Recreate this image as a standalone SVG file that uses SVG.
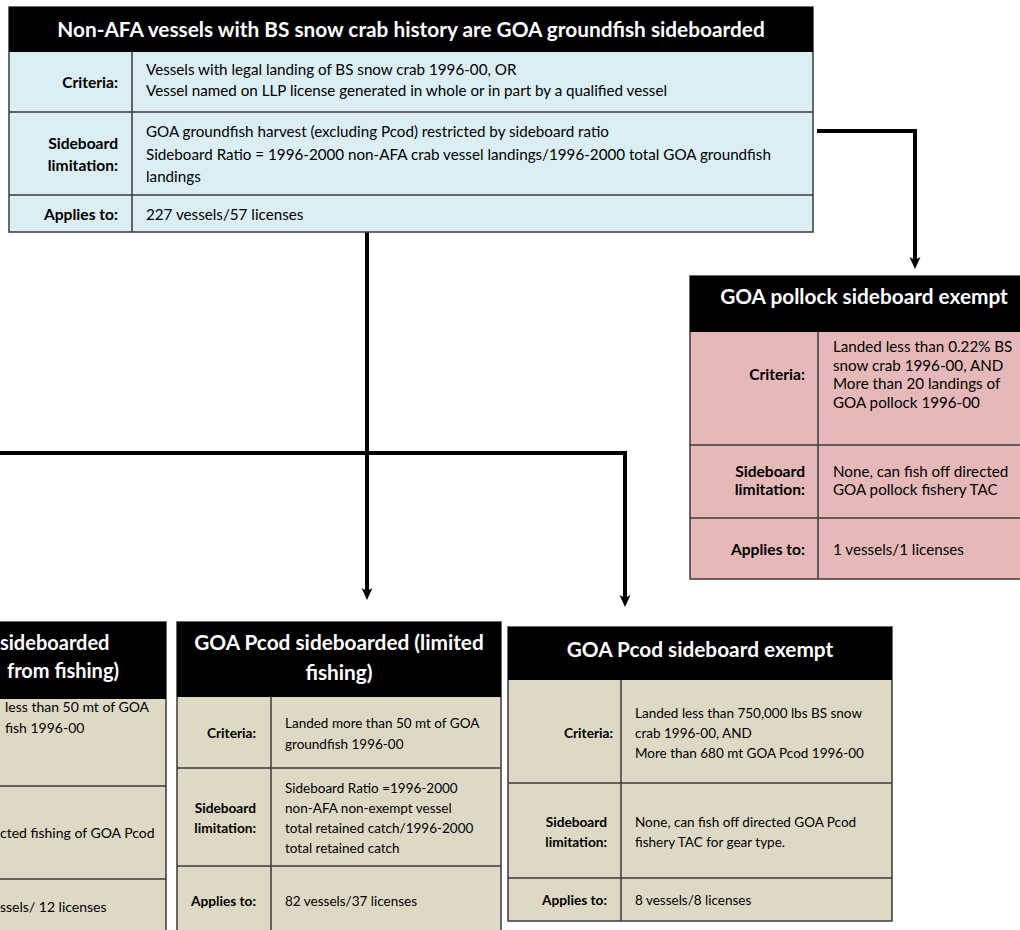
<svg xmlns="http://www.w3.org/2000/svg" width="1020" height="930" viewBox="0 0 1020 930">
<style>
text{font-family:Lato,"Noto Sans","Liberation Sans",sans-serif;}
.title{font-size:20.8px;font-weight:bold;fill:#fff;text-anchor:middle;}
.lbl{font-size:15.6px;font-weight:bold;fill:#000;text-anchor:end;}
.txt{font-size:15.2px;fill:#000;}
.lbs{font-size:13.7px;font-weight:bold;fill:#000;text-anchor:end;}
.txs{font-size:13.5px;fill:#000;}
.txl{font-size:14px;fill:#000;}
.b{stroke:#3a3a3a;stroke-width:1.5;}
.blue{fill:#DAEEF3;}
.pink{fill:#E6B9B8;}
.tan{fill:#DDD9C4;}
.bar{fill:#000;}
.conn{fill:none;stroke:#000;stroke-width:4;}
</style>
<defs>
<marker id="arr" markerUnits="userSpaceOnUse" viewBox="0 0 12 12" refX="3" refY="6" markerWidth="12" markerHeight="12" orient="auto">
<path d="M0,0.5 L12,6 L0,11.5 L3,6 z" fill="#000"/>
</marker>
</defs>
<rect width="1020" height="930" fill="#fff"/>

<g id="connectors">
<path class="conn" d="M817,131 H915 V260" marker-end="url(#arr)"/>
<path class="conn" d="M367,232 V591" stroke-width="3.5" marker-end="url(#arr)"/>
<path class="conn" d="M0,453 H625 V598" marker-end="url(#arr)"/>
</g>

<g id="top">
<rect class="blue b" x="9" y="7" width="804" height="225"/>
<rect class="bar" x="9" y="7" width="804" height="45"/>
<text class="title" x="411" y="37">Non-AFA vessels with BS snow crab history are GOA groundfish sideboarded</text>
<line class="b" x1="9" y1="112" x2="813" y2="112"/>
<line class="b" x1="9" y1="195" x2="813" y2="195"/>
<line class="b" x1="132" y1="52" x2="132" y2="232"/>
<text class="lbl" x="118" y="88">Criteria:</text>
<text class="lbl" x="118" y="149">Sideboard</text>
<text class="lbl" x="118" y="171">limitation:</text>
<text class="lbl" x="118" y="220">Applies to:</text>
<text class="txt" x="146" y="75">Vessels with legal landing of BS snow crab 1996-00, OR</text>
<text class="txt" x="146" y="96">Vessel named on LLP license generated in whole or in part by a qualified vessel</text>
<text class="txt" x="146" y="137">GOA groundfish harvest (excluding Pcod) restricted by sideboard ratio</text>
<text class="txt" x="146" y="160">Sideboard Ratio = 1996-2000 non-AFA crab vessel landings/1996-2000 total GOA groundfish</text>
<text class="txt" x="146" y="182">landings</text>
<text class="txt" x="146" y="220">227 vessels/57 licenses</text>
</g>

<g id="pollock">
<rect class="pink b" x="690" y="276" width="350" height="303"/>
<rect class="bar" x="690" y="276" width="350" height="56"/>
<text class="title" x="864" y="304">GOA pollock sideboard exempt</text>
<line class="b" x1="690" y1="445" x2="1040" y2="445"/>
<line class="b" x1="690" y1="518" x2="1040" y2="518"/>
<line class="b" x1="818" y1="332" x2="818" y2="579"/>
<text class="lbl" x="805" y="380">Criteria:</text>
<text class="lbl" x="805" y="477">Sideboard</text>
<text class="lbl" x="805" y="495">limitation:</text>
<text class="lbl" x="805" y="555">Applies to:</text>
<text class="txt" x="833" y="352">Landed less than 0.22% BS</text>
<text class="txt" x="833" y="371">snow crab 1996-00, AND</text>
<text class="txt" x="833" y="389">More than 20 landings of</text>
<text class="txt" x="833" y="408">GOA pollock 1996-00</text>
<text class="txt" x="833" y="477">None, can fish off directed</text>
<text class="txt" x="833" y="495">GOA pollock fishery TAC</text>
<text class="txt" x="833" y="555">1 vessels/1 licenses</text>
</g>

<g id="prohibited">
<rect class="tan b" x="-200" y="622" width="366" height="320"/>
<rect class="bar" x="-200" y="622" width="366" height="77"/>
<text class="title" x="0" y="650" style="text-anchor:start;font-size:20px">sideboarded</text>
<text class="title" x="7" y="678" style="text-anchor:start;font-size:20px">from fishing)</text>
<line class="b" x1="-200" y1="786" x2="166" y2="786"/>
<line class="b" x1="-200" y1="879" x2="166" y2="879"/>
<text class="txl" x="5" y="712">less than 50 mt of GOA</text>
<text class="txl" x="5" y="733">fish 1996-00</text>
<text class="txl" x="0" y="838">cted fishing of GOA Pcod</text>
<text class="txl" x="0" y="912">ssels/  12 licenses</text>
</g>

<g id="limited">
<rect class="tan b" x="177" y="622" width="324" height="320"/>
<rect class="bar" x="177" y="622" width="324" height="75"/>
<text class="title" x="339" y="650">GOA Pcod sideboarded (limited</text>
<text class="title" x="339" y="680">fishing)</text>
<line class="b" x1="177" y1="768" x2="501" y2="768"/>
<line class="b" x1="177" y1="866" x2="501" y2="866"/>
<line class="b" x1="271" y1="697" x2="271" y2="930"/>
<text class="lbs" x="256" y="738">Criteria:</text>
<text class="lbs" x="256" y="813">Sideboard</text>
<text class="lbs" x="256" y="833">limitation:</text>
<text class="lbs" x="256" y="906">Applies to:</text>
<text class="txs" x="285" y="728">Landed more than 50 mt of GOA</text>
<text class="txs" x="285" y="749">groundfish 1996-00</text>
<text class="txs" x="285" y="793">Sideboard Ratio =1996-2000</text>
<text class="txs" x="285" y="813">non-AFA non-exempt vessel</text>
<text class="txs" x="285" y="833">total retained catch/1996-2000</text>
<text class="txs" x="285" y="853">total retained catch</text>
<text class="txs" x="285" y="906">82 vessels/37 licenses</text>
</g>

<g id="exempt">
<rect class="tan b" x="508" y="627" width="384" height="294"/>
<rect class="bar" x="508" y="627" width="384" height="53"/>
<text class="title" x="700" y="657">GOA Pcod sideboard exempt</text>
<line class="b" x1="508" y1="783" x2="892" y2="783"/>
<line class="b" x1="508" y1="878" x2="892" y2="878"/>
<line class="b" x1="621" y1="680" x2="621" y2="921"/>
<text class="lbs" x="613" y="738">Criteria:</text>
<text class="lbs" x="607" y="827">Sideboard</text>
<text class="lbs" x="607" y="847">limitation:</text>
<text class="lbs" x="607" y="905">Applies to:</text>
<text class="txs" x="635" y="718">Landed less than 750,000 lbs BS snow</text>
<text class="txs" x="635" y="738">crab 1996-00, AND</text>
<text class="txs" x="635" y="758">More than 680 mt GOA Pcod 1996-00</text>
<text class="txs" x="635" y="827">None, can fish off directed GOA Pcod</text>
<text class="txs" x="635" y="847">fishery TAC for gear type.</text>
<text class="txs" x="635" y="905">8 vessels/8 licenses</text>
</g>
</svg>
